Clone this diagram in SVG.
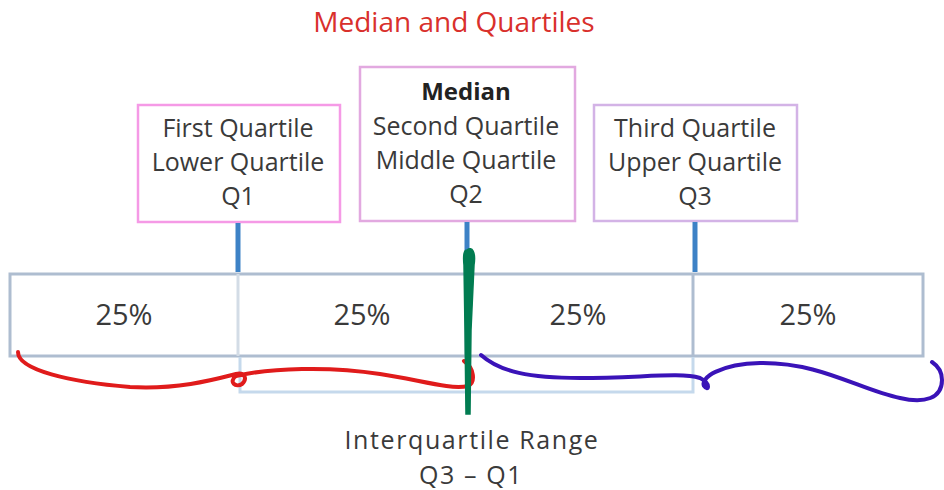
<svg xmlns="http://www.w3.org/2000/svg" width="944" height="490" viewBox="0 0 944 490">
<style>
text{font-family:"Open Sans","Liberation Sans",sans-serif;font-size:25px;fill:#3a3a3a;text-anchor:middle}
.title{fill:#d9302c;font-size:28px}
.big{font-size:29px}
.iqr{font-size:25px;letter-spacing:1.6px}
.bold{font-weight:bold;fill:#222;font-size:24px}
.cell{fill:#fff;stroke:#aebdd0;stroke-width:3}
.arrow{stroke:#3d82c6;stroke-width:5}
.ink{fill:none;stroke-width:4;stroke-linecap:round;stroke-linejoin:round}
</style>
<rect width="944" height="490" fill="#fff"/>
<text class="title" x="454" y="32">Median and Quartiles</text>

<g id="cells">
<rect class="cell" x="10" y="274" width="913" height="82"/>
<line x1="238" y1="274" x2="238" y2="356" stroke="#d3dce6" stroke-width="3"/>
<line x1="466" y1="274" x2="466" y2="356" stroke="#aebdd0" stroke-width="3"/>
<line x1="693" y1="274" x2="693" y2="356" stroke="#aebdd0" stroke-width="3"/>
<text class="big" x="124" y="325">25%</text>
<text class="big" x="362" y="325">25%</text>
<text class="big" x="578" y="325">25%</text>
<text class="big" x="808" y="325">25%</text>
</g>

<g id="q1">
<rect x="138" y="105" width="202" height="117" fill="#fff" stroke="#f59ae6" stroke-width="2.5"/>
<text x="238" y="137">First Quartile</text>
<text x="238" y="171">Lower Quartile</text>
<text x="238" y="205">Q1</text>
</g>
<g id="q2">
<rect x="360" y="67" width="215" height="154" fill="#fff" stroke="#e2a9e0" stroke-width="2.5"/>
<text class="bold" x="466" y="100">Median</text>
<text x="466" y="135">Second Quartile</text>
<text x="466" y="169">Middle Quartile</text>
<text x="466" y="203">Q2</text>
</g>
<g id="q3">
<rect x="594" y="105" width="203" height="116" fill="#fff" stroke="#d3b3e6" stroke-width="2.5"/>
<text x="695" y="137">Third Quartile</text>
<text x="695" y="171">Upper Quartile</text>
<text x="695" y="205">Q3</text>
</g>

<g id="connectors">
<line class="arrow" x1="238" y1="223" x2="238" y2="272"/>
<line class="arrow" x1="467" y1="222" x2="467" y2="272"/>
<line class="arrow" x1="695" y1="222" x2="695" y2="272"/>
<polyline points="240,357 240,392 693,392 693,357" fill="none" stroke="#c5d9ec" stroke-width="3"/>
</g>

<g id="iqr">
<text class="iqr" x="472" y="449">Interquartile Range</text>
<text class="iqr" x="471" y="484">Q3 – Q1</text>
</g>

<g id="annotations">
<path class="ink" stroke="#e01b1b" d="M18,352 C18,370 70,382 130,387 C180,390 220,378 236,374 C244,372 248,378 242,384 C236,388 228,382 236,376 C270,368 330,366 380,374 C420,380 450,390 468,386 C476,382 474,368 464,361"/>
<path class="ink" stroke="#3a13b8" d="M481,355 C500,372 530,378 580,378 C640,378 680,372 700,378 C712,384 708,392 704,386 C700,378 720,364 760,363 C820,362 860,390 900,398 C925,404 942,398 942,380 C942,372 938,366 932,362"/>
<path d="M467,250 C472,246 476,252 474,265 L471,330 L470,414 L466,414 L465,330 L464,265 C463,255 464,250 467,250 Z" fill="#017c51" stroke="#017c51" stroke-width="1.5"/>
</g>
</svg>
